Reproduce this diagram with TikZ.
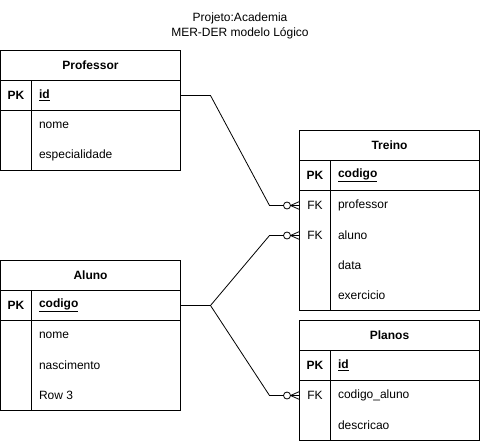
\documentclass[tikz,border=0pt]{standalone}
\usepackage{fontspec}
\setmainfont{Liberation Sans}
\usetikzlibrary{calc}
\begin{document}
\begin{tikzpicture}[x=1pt,y=-1pt,line width=1pt,
  txt/.style={inner sep=0pt,font=\fontsize{12}{15}\selectfont},
  hdrtxt/.style={txt,font=\fontsize{12}{15}\selectfont\bfseries},
  attr/.style={txt,anchor=west},
  keyattr/.style={txt,anchor=west,font=\fontsize{12}{15}\selectfont\bfseries},
  rowbox/.style={draw,minimum width=180pt,minimum height=30pt,inner sep=0pt,outer sep=0pt},
  rowspan/.style={minimum width=180pt,minimum height=30pt,inner sep=0pt,outer sep=0pt},
  conn/.style={draw,line width=0.8pt},
  zeromany/.pic={
    \draw[line width=0.8pt] (-9,0) -- (0,-4);
    \draw[line width=0.8pt] (-9,0) -- (0,4);
    \draw[line width=0.8pt,fill=white] (-12.5,0) circle[radius=3.5pt];
  }]
\useasboundingbox (0,0) rectangle (481,441);

% title
\node[txt,align=center] (title) at (240,25.5) {Projeto:Academia\\MER-DER modelo Lógico};

% ---------- Professor ----------
\node[rowbox] (prof-hdr) at (90.5,65.5) {};
\node[hdrtxt] (prof-name) at (prof-hdr.center) {Professor};
\node[rowbox] (prof-id) at (90.5,95.5) {};
\draw (0.5,50.5) rectangle (180.5,170.5);
\draw (31.5,80.5) -- (31.5,170.5);
\node[hdrtxt] (prof-pk) at (16,95.5) {PK};
\node[keyattr] (prof-idtxt) at (38.5,95.5) {\underline{id}};
\node[attr] (prof-nome) at (38.5,125.5) {nome};
\node[attr] (prof-esp) at (38.5,155.5) {especialidade};

% ---------- Aluno ----------
\node[rowbox] (al-hdr) at (90.5,275.5) {};
\node[hdrtxt] (al-name) at (al-hdr.center) {Aluno};
\node[rowbox] (al-cod) at (90.5,305.5) {};
\draw (0.5,260.5) rectangle (180.5,410.5);
\draw (31.5,290.5) -- (31.5,410.5);
\node[hdrtxt] (al-pk) at (16,305.5) {PK};
\node[keyattr] (al-codtxt) at (38.5,305.5) {\underline{codigo}};
\node[attr] (al-nome) at (38.5,335.5) {nome};
\node[attr] (al-nasc) at (38.5,365.5) {nascimento};
\node[attr] (al-row3) at (38.5,395.5) {Row 3};

% ---------- Treino ----------
\node[rowbox] (tr-hdr) at (389.5,145.5) {};
\node[hdrtxt] (tr-name) at (tr-hdr.center) {Treino};
\node[rowbox] (tr-cod) at (389.5,175.5) {};
\draw (299.5,130.5) rectangle (479.5,310.5);
\draw (330.5,160.5) -- (330.5,310.5);
\node[hdrtxt] (tr-pk) at (315,175.5) {PK};
\node[keyattr] (tr-codtxt) at (337.5,175.5) {\underline{codigo}};
\node[rowspan] (tr-prof) at (389.5,205.5) {};
\node[txt] (tr-fk1) at (315,205.5) {FK};
\node[attr] (tr-proftxt) at (337.5,205.5) {professor};
\node[rowspan] (tr-al) at (389.5,235.5) {};
\node[txt] (tr-fk2) at (315,235.5) {FK};
\node[attr] (tr-altxt) at (337.5,235.5) {aluno};
\node[attr] (tr-data) at (337.5,265.5) {data};
\node[attr] (tr-exe) at (337.5,295.5) {exercicio};

% ---------- Planos ----------
\node[rowbox] (pl-hdr) at (389.5,335.5) {};
\node[hdrtxt] (pl-name) at (pl-hdr.center) {Planos};
\node[rowbox] (pl-id) at (389.5,365.5) {};
\draw (299.5,320.5) rectangle (479.5,440.5);
\draw (330.5,350.5) -- (330.5,440.5);
\node[hdrtxt] (pl-pk) at (315,365.5) {PK};
\node[keyattr] (pl-idtxt) at (337.5,365.5) {\underline{id}};
\node[rowspan] (pl-cod) at (389.5,395.5) {};
\node[txt] (pl-fk) at (315,395.5) {FK};
\node[attr] (pl-codtxt) at (337.5,395.5) {codigo\_aluno};
\node[attr] (pl-desc) at (337.5,425.5) {descricao};

% ---------- connectors ----------
\draw[conn] (prof-id.east) -- ++(30,0) -- ($(tr-prof.west)+(-30,0)$) -- (tr-prof.west);
\pic at (tr-prof.west) {zeromany};

\draw[conn] (al-cod.east) -- ++(30,0) coordinate (al-split)
  -- ($(tr-al.west)+(-30,0)$) -- (tr-al.west);
\draw[conn] (al-split) -- ($(pl-cod.west)+(-30,0)$) -- (pl-cod.west);
\pic at (tr-al.west) {zeromany};
\pic at (pl-cod.west) {zeromany};
\end{tikzpicture}
\end{document}
